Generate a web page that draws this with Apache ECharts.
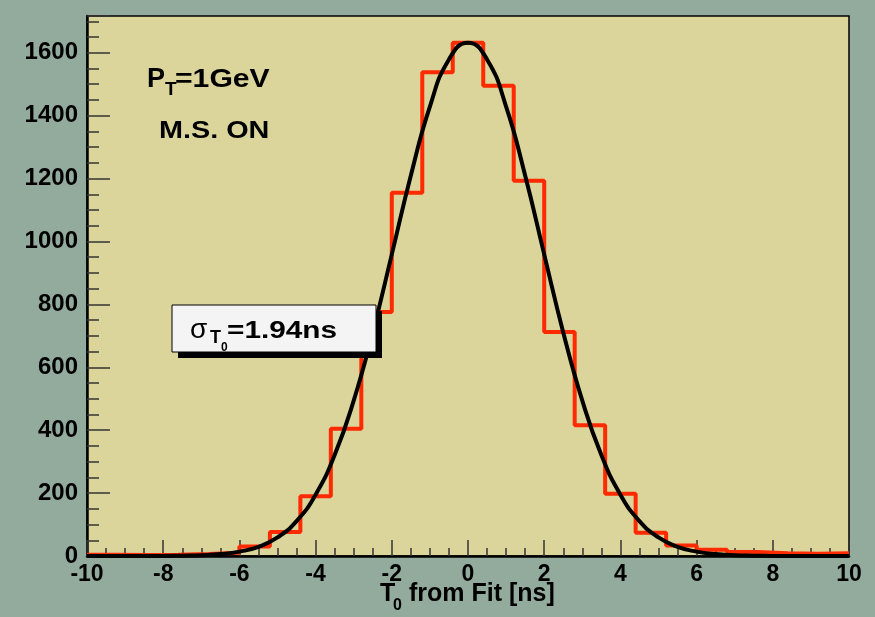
<!DOCTYPE html>
<html>
<head>
<meta charset="utf-8">
<script src="https://cdn.jsdelivr.net/npm/echarts@6/dist/echarts.min.js"></script>
<style>
html,body{margin:0;padding:0;background:#93ab9c;}
#c{width:875px;height:617px;}
</style>
</head>
<body>
<div id="c"></div>
<script>
// Histogram bin edges (ns) and counts
const binEdges = [-10, -9.2, -8.4, -7.6, -6.8, -6.0, -5.2, -4.4, -3.6, -2.8, -2.0, -1.2, -0.4,
                  0.4, 1.2, 2.0, 2.8, 3.6, 4.4, 5.2, 6.0, 6.8, 7.6, 8.4, 9.2, 10];
const binCounts = [4, 3, 4, 6, 10, 30, 76, 190, 405, 776, 1155, 1538, 1632,
                   1495, 1193, 712, 416, 198, 74, 33, 20, 13, 9, 7, 9];
// Fit curve, values
const fitX = [-10, -9.5, -9, -8.5, -8, -7.5, -7, -6.5, -6, -5.5, -5, -4.5, -4, -3.5, -3, -2.5, -2, -1.5, -1, -0.5,
              0, 0.5, 1, 1.5, 2, 2.5, 3, 3.5, 4, 4.5, 5, 5.5, 6, 6.5, 7, 7.5, 8, 8.5, 9, 9.5, 10];
const fitY = [0, 0, 0, 0, 0, 1, 2, 6, 14, 29, 59, 111, 195, 321, 494, 711, 959, 1210, 1429, 1579,
              1632, 1579, 1429, 1210, 959, 711, 494, 321, 195, 111, 59, 29, 14, 6, 2, 1, 0, 0, 0, 0, 0];
const xTicks = [-10, -8, -6, -4, -2, 0, 2, 4, 6, 8, 10];
const yTicks = [0, 200, 400, 600, 800, 1000, 1200, 1400, 1600];

const histData = binCounts.map((c, i) => [binEdges[i], c]);
histData.push([binEdges[binEdges.length - 1], binCounts[binCounts.length - 1]]);
const fitData = fitX.map((x, i) => [x, fitY[i]]);

const FONT = "'Liberation Sans', Arial, Helvetica, sans-serif";
const chart = echarts.init(document.getElementById('c'));

function txt(text, x, y, size, opts) {
  opts = opts || {};
  return {
    type: 'text', x: x, y: y, z: 100, scaleX: opts.sx || 1,
    style: {
      text: text,
      font: (opts.weight || 'bold') + ' ' + size + 'px ' + FONT,
      fill: '#000', align: 'left', verticalAlign: 'middle'
    }
  };
}

chart.setOption({
  backgroundColor: '#93ab9c',
  animation: false,
  grid: { left: 87, right: 26, top: 16, bottom: 61, show: true,
          backgroundColor: '#dcd59b', borderColor: '#000', borderWidth: 1.5 },
  xAxis: {
    type: 'value', min: xTicks[0], max: xTicks[xTicks.length - 1], interval: 2,
    axisLine: { show: true, onZero: false, lineStyle: { color: '#000', width: 2.5 } },
    axisTick: { inside: true, length: 16, lineStyle: { color: '#333', width: 1.5 } },
    minorTick: { show: true, splitNumber: 4, length: 8, lineStyle: { color: '#333', width: 1.5 } },
    splitLine: { show: false },
    axisLabel: { color: '#000', fontSize: 23, fontWeight: 'bold', fontFamily: FONT, margin: 7 }
  },
  yAxis: {
    type: 'value', min: 0, max: 1717, interval: 200,
    axisLine: { show: true, onZero: false, lineStyle: { color: '#000', width: 2.5 } },
    axisTick: { inside: true, length: 23, lineStyle: { color: '#333', width: 1.5 } },
    minorTick: { show: true, splitNumber: 4, length: 12, lineStyle: { color: '#333', width: 1.5 } },
    splitLine: { show: false },
    axisLabel: { color: '#000', fontSize: 24, fontWeight: 'bold', fontFamily: FONT, margin: 9,
                 showMaxLabel: false,
                 formatter: v => (yTicks.indexOf(v) >= 0 ? String(v) : '') }
  },
  series: [
    {
      type: 'line', data: histData, step: 'end', showSymbol: false,
      lineStyle: { color: '#ff2a00', width: 4 }, z: 2
    },
    {
      type: 'line', data: fitData, smooth: 0.5, showSymbol: false,
      lineStyle: { color: '#000', width: 4 }, z: 3
    }
  ],
  graphic: [
    txt('P', 147, 80, 27),
    txt('T', 165, 90, 19),
    txt('=1GeV', 175, 80, 26, { sx: 1.16 }),
    txt('M.S. ON', 159, 131.5, 24, { sx: 1.2 }),
    { type: 'rect', z: 90, shape: { x: 178, y: 311, width: 204, height: 47 }, style: { fill: '#000' } },
    { type: 'rect', z: 91, shape: { x: 172, y: 305, width: 204, height: 47 },
      style: { fill: '#f4f4f4', stroke: '#000', lineWidth: 1 } },
    txt('σ', 190, 330, 28, { weight: 'normal' }),
    txt('T', 210, 338.5, 18),
    txt('0', 221, 347.7, 12),
    txt('=1.94ns', 227, 331, 24, { sx: 1.24 }),
    txt('T', 380, 594, 25),
    txt('0', 393, 606, 16),
    txt('from Fit [ns]', 409, 594, 25)
  ]
});
</script>
</body>
</html>
